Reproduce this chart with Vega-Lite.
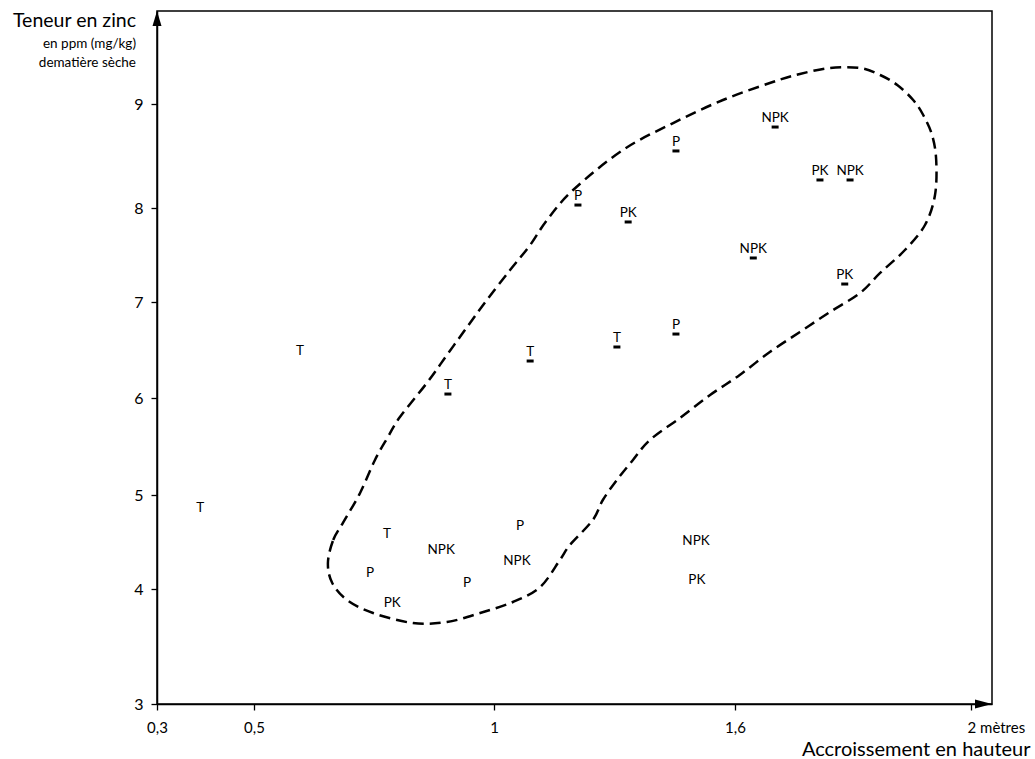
{
  "$schema": "https://vega.github.io/schema/vega-lite/v6.json",
  "autosize": {"type": "none"},
  "padding": {"left": 157, "top": 11, "right": 43, "bottom": 55},
  "width": 835,
  "height": 693,
  "background": "white",
  "config": {
    "font": "Lato",
    "view": {"stroke": "black", "strokeWidth": 1.5},
    "axis": {"domainColor": "black", "domainWidth": 1.5, "tickColor": "black", "tickWidth": 1.3, "labelColor": "black", "titleColor": "black", "grid": false, "labelFont": "Lato", "titleFont": "Lato", "titleFontWeight": "normal"}
  },
  "title": {
    "text": "Teneur en zinc",
    "subtitle": ["en ppm (mg/kg)", "dematière sèche"],
    "orient": "top",
    "anchor": "start",
    "align": "right",
    "frame": "group",
    "font": "Lato",
    "fontSize": 19.5,
    "fontWeight": "normal",
    "color": "black",
    "subtitleFont": "Lato",
    "subtitleFontSize": 13.5,
    "subtitleColor": "black",
    "subtitlePadding": 5,
    "subtitleLineHeight": 19,
    "offset": 0,
    "dx": -21,
    "dy": 59
  },
  "datasets": {
    "points": [
      {"traitement": "NPK", "accroissement": 1.668, "zinc": 8.865, "souligne": true},
      {"traitement": "P", "accroissement": 1.453, "zinc": 8.635, "souligne": true},
      {"traitement": "PK", "accroissement": 1.744, "zinc": 8.356, "souligne": true},
      {"traitement": "NPK", "accroissement": 1.795, "zinc": 8.356, "souligne": true},
      {"traitement": "P", "accroissement": 1.209, "zinc": 8.115, "souligne": true},
      {"traitement": "PK", "accroissement": 1.334, "zinc": 7.947, "souligne": true},
      {"traitement": "NPK", "accroissement": 1.631, "zinc": 7.564, "souligne": true},
      {"traitement": "PK", "accroissement": 1.786, "zinc": 7.287, "souligne": true},
      {"traitement": "P", "accroissement": 1.453, "zinc": 6.76, "souligne": true},
      {"traitement": "T", "accroissement": 1.306, "zinc": 6.625, "souligne": true},
      {"traitement": "T", "accroissement": 1.09, "zinc": 6.479, "souligne": true},
      {"traitement": "T", "accroissement": 0.904, "zinc": 6.135, "souligne": true},
      {"traitement": "T", "accroissement": 0.596, "zinc": 6.49, "souligne": false},
      {"traitement": "T", "accroissement": 0.389, "zinc": 4.862, "souligne": false},
      {"traitement": "T", "accroissement": 0.777, "zinc": 4.585, "souligne": false},
      {"traitement": "NPK", "accroissement": 0.89, "zinc": 4.415, "souligne": false},
      {"traitement": "P", "accroissement": 1.065, "zinc": 4.67, "souligne": false},
      {"traitement": "NPK", "accroissement": 1.057, "zinc": 4.298, "souligne": false},
      {"traitement": "P", "accroissement": 0.742, "zinc": 4.17, "souligne": false},
      {"traitement": "P", "accroissement": 0.944, "zinc": 4.064, "souligne": false},
      {"traitement": "PK", "accroissement": 0.788, "zinc": 3.878, "souligne": false},
      {"traitement": "NPK", "accroissement": 1.503, "zinc": 4.511, "souligne": false},
      {"traitement": "PK", "accroissement": 1.505, "zinc": 4.096, "souligne": false}
    ],
    "contour": [
      {"i": 1, "accroissement": 0.654, "zinc": 4.277},
      {"i": 2, "accroissement": 0.665, "zinc": 4.521},
      {"i": 3, "accroissement": 0.685, "zinc": 4.702},
      {"i": 4, "accroissement": 0.721, "zinc": 5.021},
      {"i": 5, "accroissement": 0.752, "zinc": 5.361},
      {"i": 6, "accroissement": 0.779, "zinc": 5.598},
      {"i": 7, "accroissement": 0.804, "zinc": 5.804},
      {"i": 8, "accroissement": 0.86, "zinc": 6.156},
      {"i": 9, "accroissement": 0.902, "zinc": 6.448},
      {"i": 10, "accroissement": 0.944, "zinc": 6.74},
      {"i": 11, "accroissement": 0.985, "zinc": 7.021},
      {"i": 12, "accroissement": 1.04, "zinc": 7.34},
      {"i": 13, "accroissement": 1.09, "zinc": 7.606},
      {"i": 14, "accroissement": 1.132, "zinc": 7.872},
      {"i": 15, "accroissement": 1.197, "zinc": 8.173},
      {"i": 16, "accroissement": 1.321, "zinc": 8.558},
      {"i": 17, "accroissement": 1.446, "zinc": 8.817},
      {"i": 18, "accroissement": 1.57, "zinc": 9.04},
      {"i": 19, "accroissement": 1.664, "zinc": 9.22},
      {"i": 20, "accroissement": 1.71, "zinc": 9.3},
      {"i": 21, "accroissement": 1.761, "zinc": 9.36},
      {"i": 22, "accroissement": 1.812, "zinc": 9.36},
      {"i": 23, "accroissement": 1.846, "zinc": 9.29},
      {"i": 24, "accroissement": 1.875, "zinc": 9.19},
      {"i": 25, "accroissement": 1.902, "zinc": 9.04},
      {"i": 26, "accroissement": 1.919, "zinc": 8.894},
      {"i": 27, "accroissement": 1.934, "zinc": 8.702},
      {"i": 28, "accroissement": 1.941, "zinc": 8.462},
      {"i": 29, "accroissement": 1.939, "zinc": 8.125},
      {"i": 30, "accroissement": 1.922, "zinc": 7.819},
      {"i": 31, "accroissement": 1.888, "zinc": 7.553},
      {"i": 32, "accroissement": 1.846, "zinc": 7.309},
      {"i": 33, "accroissement": 1.812, "zinc": 7.096},
      {"i": 34, "accroissement": 1.761, "zinc": 6.896},
      {"i": 35, "accroissement": 1.71, "zinc": 6.688},
      {"i": 36, "accroissement": 1.659, "zinc": 6.479},
      {"i": 37, "accroissement": 1.608, "zinc": 6.24},
      {"i": 38, "accroissement": 1.538, "zinc": 6.031},
      {"i": 39, "accroissement": 1.463, "zinc": 5.794},
      {"i": 40, "accroissement": 1.388, "zinc": 5.567},
      {"i": 41, "accroissement": 1.346, "zinc": 5.361},
      {"i": 42, "accroissement": 1.306, "zinc": 5.155},
      {"i": 43, "accroissement": 1.271, "zinc": 4.947},
      {"i": 44, "accroissement": 1.246, "zinc": 4.734},
      {"i": 45, "accroissement": 1.189, "zinc": 4.468},
      {"i": 46, "accroissement": 1.164, "zinc": 4.309},
      {"i": 47, "accroissement": 1.115, "zinc": 4.021},
      {"i": 48, "accroissement": 1.047, "zinc": 3.887},
      {"i": 49, "accroissement": 0.971, "zinc": 3.791},
      {"i": 50, "accroissement": 0.902, "zinc": 3.713},
      {"i": 51, "accroissement": 0.831, "zinc": 3.704},
      {"i": 52, "accroissement": 0.748, "zinc": 3.791},
      {"i": 53, "accroissement": 0.694, "zinc": 3.904},
      {"i": 54, "accroissement": 0.663, "zinc": 4.064}
    ],
    "fleches": [
      {"axe": "y", "accroissement": 0.3, "zinc": 9.93},
      {"axe": "x", "accroissement": 2.036, "zinc": 3}
    ]
  },
  "encoding": {
    "x": {
      "field": "accroissement",
      "type": "quantitative",
      "scale": {"domain": [0.3, 0.5, 1, 1.6, 2, 2.036], "range": [0, 97, 337, 578, 814, 835], "nice": false, "zero": false},
      "axis": {
        "values": [0.3, 0.5, 1, 1.6, 2],
        "labelExpr": "datum.value == 2 ? '2 mètres' : replace(toString(datum.value), '.', ',')",
        "labelAlign": {"expr": "datum.value == 2 ? 'left' : 'center'"},
        "labelOffset": {"expr": "datum.value == 2 ? -4 : 0"},
        "labelFlush": false,
        "labelFontSize": 15,
        "labelPadding": 10,
        "tickSize": 6,
        "title": "Accroissement en hauteur",
        "titleAnchor": "end",
        "titleAlign": "right",
        "titleX": 873,
        "titleFontSize": 20,
        "titlePadding": 4
      }
    },
    "y": {
      "field": "zinc",
      "type": "quantitative",
      "scale": {"domain": [3, 4, 5, 6, 7, 8, 9, 9.93], "range": [693, 578, 484, 387, 291, 197, 93, 0], "nice": false, "zero": false},
      "axis": {
        "values": [3, 4, 5, 6, 7, 8, 9],
        "labelFontSize": 16,
        "labelPadding": 8,
        "tickSize": 6,
        "title": null
      }
    }
  },
  "layer": [
    {
      "data": {"name": "contour"},
      "mark": {"type": "line", "interpolate": "cardinal-closed", "strokeDash": [11, 6], "strokeWidth": 2.5, "color": "black"},
      "encoding": {"order": {"field": "i", "type": "quantitative"}}
    },
    {
      "data": {"name": "points"},
      "mark": {"type": "text", "fontSize": 13.5, "align": "center", "baseline": "middle", "color": "black", "font": "Lato"},
      "encoding": {"text": {"field": "traitement", "type": "nominal"}}
    },
    {
      "data": {"name": "points"},
      "transform": [{"filter": "datum.souligne"}],
      "mark": {"type": "tick", "orient": "horizontal", "size": 7, "thickness": 3, "yOffset": 9, "color": "black", "opacity": 1}
    },
    {
      "data": {"name": "fleches"},
      "transform": [{"filter": "datum.axe == 'y'"}],
      "mark": {"type": "point", "shape": "M0,0L-0.3,1L0.3,1Z", "size": 900, "filled": true, "color": "black", "opacity": 1}
    },
    {
      "data": {"name": "fleches"},
      "transform": [{"filter": "datum.axe == 'x'"}],
      "mark": {"type": "point", "shape": "M0,0L-1,-0.27L-1,0.27Z", "size": 1156, "filled": true, "color": "black", "opacity": 1}
    }
  ]
}
